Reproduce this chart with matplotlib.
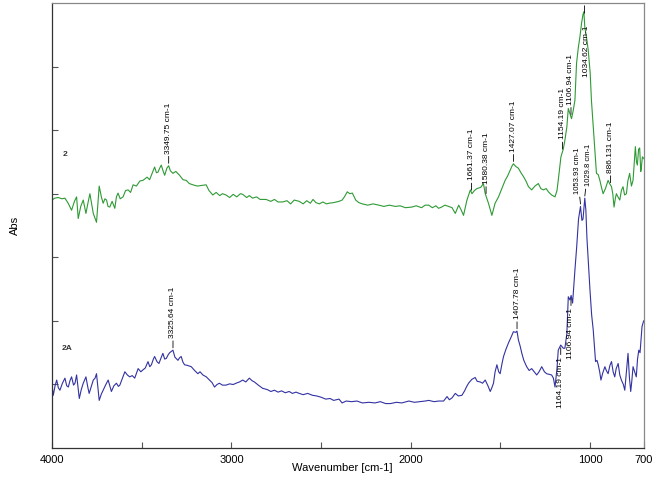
import matplotlib
matplotlib.use("Agg")
import matplotlib.pyplot as plt
import numpy as np

plt.rcParams["font.family"] = ["Liberation Sans", "DejaVu Sans"]

# sample 2 (green), wavenumber [cm-1] and absorbance
WN_2 = [
    4000, 3985, 3965, 3945, 3928, 3910, 3891, 3875, 3863, 3854, 3840, 3826, 3811, 3800, 3789,
    3778, 3770, 3752, 3737, 3725, 3715, 3705, 3696, 3688, 3678, 3665, 3650, 3641, 3632, 3620,
    3604, 3590, 3576, 3562, 3548, 3530, 3510, 3493, 3470, 3456, 3446, 3428, 3418, 3409, 3400,
    3391, 3380, 3372, 3360, 3350, 3340, 3326, 3310, 3289, 3270, 3252, 3235, 3215, 3190, 3165,
    3141, 3125, 3104, 3085, 3065, 3050, 3030, 3010, 2990, 2970, 2950, 2937, 2915, 2900, 2882,
    2860, 2840, 2807, 2780, 2760, 2740, 2715, 2690, 2670, 2650, 2622, 2600, 2580, 2560, 2545,
    2529, 2510, 2490, 2470, 2456, 2430, 2400, 2383, 2370, 2354, 2340, 2326, 2307, 2290, 2270,
    2240, 2210, 2178, 2150, 2120, 2085, 2060, 2030, 1994, 1970, 1940, 1920, 1900, 1880, 1860,
    1845, 1828, 1810, 1789, 1770, 1752, 1733, 1720, 1706, 1687, 1675, 1668, 1659, 1645, 1632,
    1610, 1595, 1585, 1567, 1548, 1530, 1511, 1490, 1474, 1460, 1446, 1435, 1428, 1415, 1400,
    1386, 1372, 1358, 1344, 1326, 1308, 1289, 1275, 1261, 1245, 1233, 1215, 1196, 1185, 1178,
    1163, 1150, 1141, 1130, 1122, 1113, 1104, 1095, 1085, 1076, 1066, 1057, 1048, 1040, 1035,
    1030, 1020, 1011, 1000, 993, 983, 974, 965, 955, 946, 937, 928, 915, 900, 890,
    881, 874, 867, 860, 854, 845, 835, 826, 817, 808, 798, 790, 780, 770, 761,
    755, 748, 742, 737, 730, 724, 718, 715, 709, 700,
]
ABS_2 = [
    3.90, 3.93, 3.94, 3.92, 3.93, 3.85, 3.74, 3.88, 3.95, 3.61, 3.80, 3.90, 3.69, 3.85, 4.00,
    3.82, 3.69, 3.55, 4.12, 3.95, 3.85, 3.92, 3.90, 3.80, 3.79, 3.88, 3.77, 3.95, 4.01, 3.92,
    3.95, 4.05, 4.06, 4.02, 4.14, 4.12, 4.20, 4.21, 4.26, 4.22, 4.29, 4.42, 4.33, 4.34, 4.40,
    4.45, 4.35, 4.29, 4.40, 4.44, 4.36, 4.32, 4.35, 4.29, 4.22, 4.21, 4.16, 4.14, 4.12, 4.13,
    4.14, 4.05, 3.98, 4.02, 3.97, 4.00, 3.98, 3.94, 3.99, 3.95, 4.00, 3.99, 3.94, 3.97, 3.93,
    3.95, 3.91, 3.91, 3.88, 3.91, 3.87, 3.87, 3.89, 3.84, 3.90, 3.88, 3.84, 3.89, 3.85, 3.91,
    3.86, 3.84, 3.87, 3.84, 3.85, 3.86, 3.88, 3.90, 3.95, 4.03, 4.00, 4.01, 3.90, 3.86, 3.84,
    3.82, 3.84, 3.82, 3.80, 3.82, 3.80, 3.81, 3.78, 3.79, 3.81, 3.78, 3.82, 3.82, 3.78, 3.81,
    3.77, 3.79, 3.82, 3.80, 3.78, 3.69, 3.82, 3.75, 3.66, 3.90, 4.00, 4.06, 4.00, 4.05, 4.08,
    4.10, 4.16, 4.00, 3.85, 3.66, 3.85, 3.95, 4.10, 4.21, 4.28, 4.37, 4.44, 4.47, 4.43, 4.40,
    4.33, 4.27, 4.20, 4.11, 4.06, 4.12, 4.16, 4.08, 4.06, 4.08, 4.03, 3.98, 3.95, 4.05, 4.21,
    4.58, 4.70, 4.84, 5.05, 5.34, 5.26, 5.18, 5.30, 5.47, 6.05, 6.30, 6.47, 6.68, 6.82, 6.86,
    6.62, 6.45, 6.26, 5.90, 5.47, 5.05, 4.69, 4.32, 4.30, 4.21, 4.10, 4.00, 4.08, 4.21, 4.15,
    4.11, 4.00, 3.79, 3.92, 4.00, 3.95, 3.90, 4.05, 4.11, 3.98, 4.00, 4.20, 4.32, 4.12, 4.21,
    4.45, 4.74, 4.50, 4.45, 4.70, 4.72, 4.35, 4.40, 4.58, 4.55,
]

# sample 2A (blue)
WN_2A = [
    4000, 3993, 3983, 3974, 3965, 3956, 3942, 3928, 3918, 3909, 3900, 3891, 3880, 3872, 3863,
    3848, 3837, 3826, 3811, 3800, 3793, 3780, 3770, 3760, 3752, 3737, 3725, 3715, 3700, 3687,
    3669, 3655, 3641, 3630, 3622, 3610, 3594, 3580, 3567, 3553, 3539, 3520, 3505, 3493, 3480,
    3465, 3455, 3446, 3435, 3428, 3415, 3404, 3392, 3382, 3372, 3363, 3352, 3344, 3335, 3326,
    3315, 3298, 3289, 3280, 3270, 3261, 3245, 3224, 3205, 3187, 3175, 3159, 3140, 3122, 3108,
    3094, 3080, 3067, 3050, 3030, 3010, 2990, 2974, 2955, 2937, 2920, 2900, 2885, 2872, 2850,
    2826, 2800, 2780, 2760, 2740, 2720, 2700, 2678, 2660, 2640, 2622, 2600, 2575, 2548, 2525,
    2500, 2474, 2450, 2430, 2400, 2383, 2360, 2330, 2300, 2270, 2233, 2200, 2170, 2140, 2113,
    2080, 2050, 2011, 1980, 1950, 1920, 1900, 1870, 1845, 1817, 1798, 1785, 1770, 1752, 1735,
    1715, 1700, 1690, 1678, 1660, 1641, 1630, 1613, 1600, 1585, 1570, 1557, 1548, 1539, 1530,
    1520, 1510, 1502, 1490, 1483, 1470, 1456, 1440, 1428, 1415, 1408, 1400, 1390, 1381, 1370,
    1354, 1340, 1326, 1312, 1298, 1285, 1270, 1255, 1243, 1230, 1215, 1205, 1196, 1185, 1178,
    1164, 1150, 1141, 1130, 1122, 1113, 1106, 1098, 1085, 1075, 1065, 1054, 1046, 1040, 1030,
    1024, 1018, 1010, 1001, 992, 983, 970, 962, 955, 947, 940, 930, 918, 910, 900,
    890, 881, 872, 863, 855, 844, 835, 826, 815, 807, 798, 789, 781, 774, 768,
    761, 752, 743, 736, 729, 722, 718, 711, 702,
]
ABS_2A = [
    0.99, 0.83, 0.98, 1.07, 0.95, 0.91, 1.02, 1.10, 0.98, 0.96, 1.06, 1.12, 0.99, 1.02, 1.15,
    0.78, 0.92, 1.02, 1.12, 0.95, 0.86, 0.98, 1.07, 1.10, 1.17, 0.75, 0.85, 0.91, 1.00, 1.07,
    0.89, 0.98, 1.02, 0.97, 0.99, 1.08, 1.20, 1.15, 1.12, 1.14, 1.10, 1.25, 1.20, 1.23, 1.26,
    1.36, 1.28, 1.31, 1.40, 1.44, 1.36, 1.33, 1.42, 1.49, 1.40, 1.41, 1.47, 1.50, 1.52, 1.54,
    1.43, 1.38, 1.42, 1.44, 1.35, 1.31, 1.30, 1.28, 1.22, 1.17, 1.20, 1.15, 1.12, 1.07, 1.03,
    0.96, 1.00, 1.02, 0.99, 0.99, 1.01, 1.00, 1.02, 1.04, 1.07, 1.04, 1.10, 1.06, 1.04, 0.99,
    0.94, 0.92, 0.89, 0.91, 0.88, 0.90, 0.87, 0.89, 0.86, 0.88, 0.86, 0.84, 0.86, 0.83, 0.82,
    0.80, 0.77, 0.78, 0.75, 0.77, 0.71, 0.74, 0.73, 0.74, 0.71, 0.72, 0.71, 0.73, 0.70, 0.70,
    0.72, 0.71, 0.74, 0.72, 0.73, 0.74, 0.75, 0.73, 0.74, 0.74, 0.81, 0.76, 0.79, 0.86, 0.82,
    0.83, 0.90, 0.96, 1.02, 1.08, 1.11, 1.05, 1.04, 1.02, 1.07, 0.98, 0.89, 0.95, 1.02, 1.20,
    1.31, 1.20, 1.17, 1.35, 1.44, 1.55, 1.65, 1.75, 1.83, 1.82, 1.84, 1.70, 1.60, 1.49, 1.38,
    1.28, 1.22, 1.25, 1.20, 1.15, 1.20, 1.28, 1.20, 1.17, 1.16, 1.15, 1.10, 0.96, 1.25, 1.54,
    1.62, 1.57, 1.57, 1.80, 2.38, 2.33, 2.40, 2.28, 2.80, 3.17, 3.60, 3.80, 3.58, 3.60, 3.93,
    3.74, 3.30, 2.90, 2.48, 2.10, 1.86, 1.36, 1.38, 1.31, 1.20, 1.07, 1.18, 1.28, 1.22, 1.17,
    1.30, 1.36, 1.20, 1.12, 1.25, 1.33, 1.15, 1.07, 1.00, 0.91, 1.20, 1.49, 1.10, 0.89, 1.05,
    1.28, 1.20, 1.12, 1.40, 1.54, 1.50, 1.65, 1.91, 2.00,
]

# peak labels: (wavenumber, text, placement, sideways nudge in points)
PEAKS_2 = [
    (3349.75, "3349.75 cm-1", "up", 0),
    (1661.37, "1661.37 cm-1", "up", 0),
    (1580.38, "1580.38 cm-1", "up", 0),
    (1427.07, "1427.07 cm-1", "up", 0),
    (1154.19, "1154.19 cm-1", "up", 0),
    (1106.94, "1106.94 cm-1", "up", 0),
    (1034.62, "1034.62 cm-1", "top", 0),
    (886.131, "886.131 cm-1", "up", 0),
]
PEAKS_2A = [
    (3325.64, "3325.64 cm-1", "up", 0),
    (1407.78, "1407.78 cm-1", "up", 0),
    (1164.19, "1164.19 cm-1", "down", 0),
    (1106.94, "1106.94 cm-1", "down", 0),
    (1053.93, "1053.93 cm-1", "up", -2.5),
    (1029.8, "1029.8 cm-1", "up", 2.5),
]

GREEN = "#2e9a34"
BLUE = "#3232a2"

fig = plt.figure(figsize=(6.67, 4.86), dpi=100)
ax = fig.add_axes([0.078, 0.078, 0.8875, 0.916])

ax.plot(WN_2, ABS_2, color=GREEN, lw=0.8)
ax.plot(WN_2A, ABS_2A, color=BLUE, lw=0.8)


def label_peaks(peaks, wn, ab):
    x = np.array(wn[::-1], dtype=float)
    y = np.array(ab[::-1], dtype=float)
    for pos, text, where, nudge in peaks:
        val = np.interp(pos, x, y)
        if where == "top":
            ax.vlines(pos, val, 6.97, color="black", lw=0.6)
            ax.text(pos - 14, val - 1.0, text, rotation=90, ha="center", va="bottom",
                    fontsize=6)
            continue
        off = 7 if where == "up" else -7
        ax.annotate(text, xy=(pos, val + (0.04 if off > 0 else -0.04)),
                    xytext=(nudge, off), textcoords="offset points",
                    rotation=90, ha="center", va="bottom" if off > 0 else "top",
                    fontsize=6 if nudge == 0 else 5.5,
                    arrowprops=dict(arrowstyle="-", color="black", lw=0.6,
                                    shrinkA=0, shrinkB=0))


label_peaks(PEAKS_2, WN_2, ABS_2)
label_peaks(PEAKS_2A, WN_2A, ABS_2A)

ax.text(3940, 4.61, "2", fontsize=6, fontweight="bold", ha="left", va="center", color="#333333")
ax.text(3944, 1.56, "2A", fontsize=6, fontweight="bold", ha="left", va="center", color="#333333")

ax.set_xlim(4000, 700)
ax.set_ylim(0, 7)
ax.set_xticks([4000, 3500, 3000, 2500, 2000, 1500, 1000, 700])
ax.set_xticklabels(["4000", "", "3000", "", "2000", "", "1000", "700"], fontsize=8)
ax.set_yticks([1, 2, 3, 4, 5, 6])
ax.set_yticklabels([])
ax.tick_params(axis="both", direction="in", length=4, width=0.8, color="#555555", pad=5)

ax.set_xlabel("Wavenumber [cm-1]", fontsize=8)
ax.xaxis.set_label_coords(0.49, -0.033)
ax.set_ylabel("Abs", fontsize=8)
ax.yaxis.set_label_coords(-0.054, 0.5)

for side in ("left", "bottom"):
    ax.spines[side].set_color("#333333")
for side in ("top", "right"):
    ax.spines[side].set_color("#888888")
for s in ax.spines.values():
    s.set_linewidth(0.9)

fig.savefig("out.png", dpi=100)
